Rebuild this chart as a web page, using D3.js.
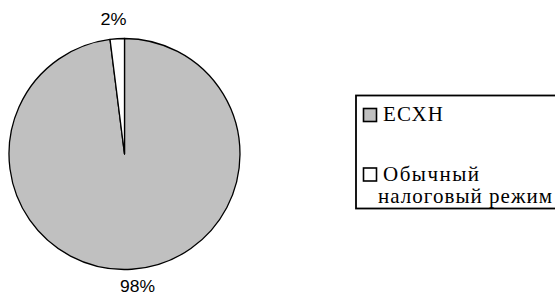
<!DOCTYPE html>
<html><head><meta charset="utf-8">
<script src="https://cdn.jsdelivr.net/npm/d3@7/dist/d3.min.js"></script>
<style>body{margin:0;background:#fff}svg{display:block}</style>
</head><body>
<script>
const categories = ["ЕСХН", "Обычный налоговый режим"];
const values = [98, 2];
const labels = ["98%", "2%"];
const colors = ["#c0c0c0", "#ffffff"];

const W = 555, H = 295;
const svg = d3.select("body").append("svg").attr("width", W).attr("height", H);
const cx = 124.5, cy = 154, r = 115.5;

const pie = d3.pie().sort(null).value(d => d)(values);
const arc = d3.arc().innerRadius(0).outerRadius(r);
const g = svg.append("g").attr("transform", `translate(${cx},${cy})`);
g.selectAll("path").data(pie).enter().append("path")
  .attr("d", arc).attr("fill", (d, i) => colors[i])
  .attr("stroke", "#000").attr("stroke-width", 1.3).attr("stroke-linejoin", "round");

// labels
const labelPos = [[137.5 - cx, 292 - cy, 35], [113.5 - cx, 25 - cy, 26]];
g.selectAll("text.lbl").data(pie).enter().append("text")
  .attr("class", "lbl")
  .attr("x", (d, i) => labelPos[i][0] - labelPos[i][2] / 2).attr("y", (d, i) => labelPos[i][1])
  .attr("textLength", (d, i) => labelPos[i][2]).attr("lengthAdjust", "spacingAndGlyphs")
  .style("font-family", "'Liberation Sans', Arial, sans-serif")
  .style("font-size", "16px").attr("fill", "#000")
  .text((d, i) => labels[i]);

// legend
const lg = svg.append("g");
lg.append("rect").attr("x", 356).attr("y", 95.5).attr("width", 210).attr("height", 113)
  .attr("fill", "#fff").attr("stroke", "#000").attr("stroke-width", 1.8);
const items = [
  {lines: [categories[0]], widths: [60], y: 115, base: [121]},
  {lines: ["Обычный", "налоговый режим"], widths: [96, 174], y: 174.5, base: [181, 203]}
];
items.forEach((it, i) => {
  lg.append("rect").attr("x", 363.5).attr("y", it.y - 6.5).attr("width", 13).attr("height", 13)
    .attr("fill", colors[i]).attr("stroke", "#000").attr("stroke-width", 1.6);
  it.lines.forEach((ln, j) => {
    lg.append("text")
      .attr("x", j === 0 ? 383 : 378).attr("y", it.base[j])
      .attr("textLength", it.widths[j]).attr("lengthAdjust", "spacing")
      .style("font-family", "'Liberation Serif', 'Times New Roman', serif")
      .style("font-size", "21px").attr("fill", "#000")
      .text(ln);
  });
});
</script>
</body></html>
